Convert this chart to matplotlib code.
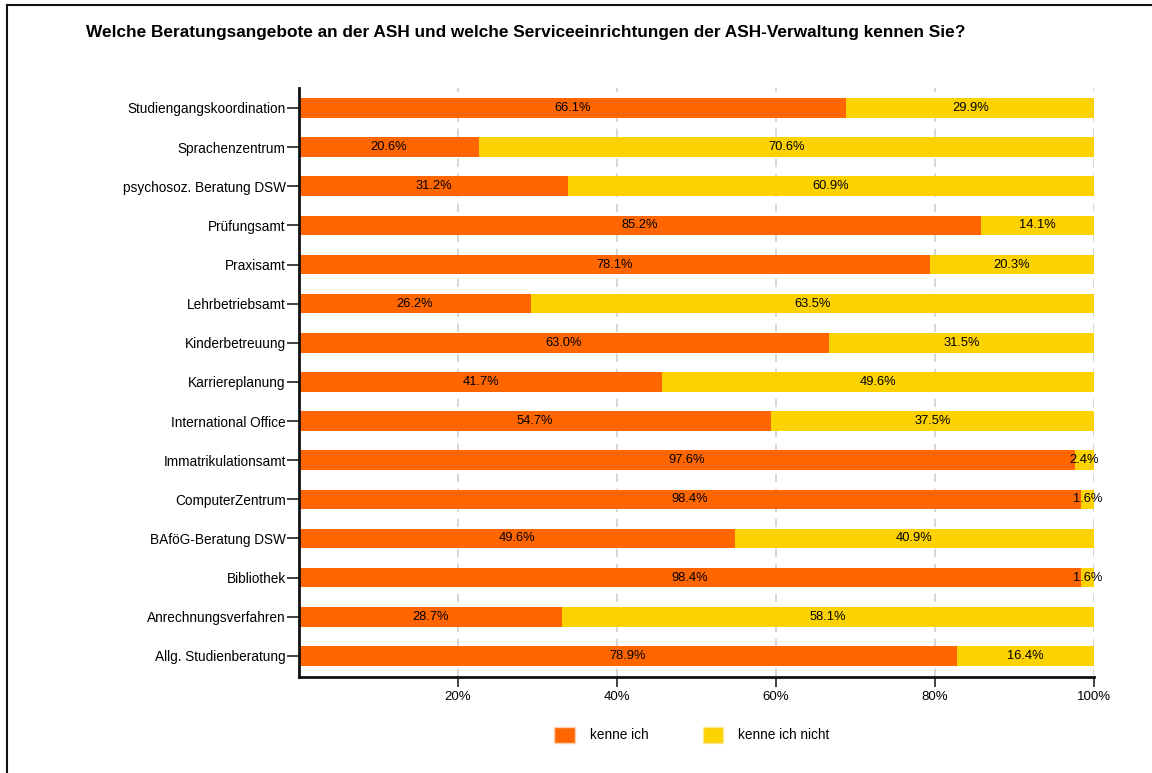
import numpy as np
import matplotlib.pyplot as plt
from matplotlib.patches import Patch
from matplotlib.lines import Line2D

plt.rcParams['font.family'] = ['Liberation Sans', 'DejaVu Sans']

# Daten (von oben nach unten)
kategorien = ['Studiengangskoordination', 'Sprachenzentrum', 'psychosoz. Beratung DSW',
              'Prüfungsamt', 'Praxisamt', 'Lehrbetriebsamt', 'Kinderbetreuung',
              'Karriereplanung', 'International Office', 'Immatrikulationsamt',
              'ComputerZentrum', 'BAföG-Beratung DSW', 'Bibliothek',
              'Anrechnungsverfahren', 'Allg. Studienberatung']
kenne_ich = [66.1, 20.6, 31.2, 85.2, 78.1, 26.2, 63.0, 41.7, 54.7, 97.6, 98.4, 49.6, 98.4, 28.7, 78.9]
kenne_ich_nicht = [29.9, 70.6, 60.9, 14.1, 20.3, 63.5, 31.5, 49.6, 37.5, 2.4, 1.6, 40.9, 1.6, 58.1, 16.4]
serien = ['kenne ich', 'kenne ich nicht']
farben = ['#ff6600', '#fcd200']
titel = 'Welche Beratungsangebote an der ASH und welche Serviceeinrichtungen der ASH-Verwaltung kennen Sie?'

a = np.array(kenne_ich)
b = np.array(kenne_ich_nicht)
summe = a + b
a_norm = a / summe * 100
b_norm = b / summe * 100
y = np.arange(len(kategorien))

fig = plt.figure(figsize=(11.52, 7.73), dpi=100)
ax = fig.add_axes([299 / 1152, 1 - 677 / 773, 795 / 1152, 589 / 773])

ax.barh(y, a_norm, height=0.5, color=farben[0], zorder=2)
ax.barh(y, b_norm, left=a_norm, height=0.5, color=farben[1], zorder=2)

for i in range(len(kategorien)):
    ax.text(a_norm[i] / 2, y[i], f'{a[i]:.1f}%', ha='center', va='center', fontsize=9.3, zorder=3)
    ax.text(a_norm[i] + b_norm[i] / 2, y[i], f'{b[i]:.1f}%', ha='center', va='center', fontsize=9.3, zorder=3)

ax.set_xlim(0, 100)
ax.set_ylim(len(kategorien) - 0.46, -0.51)
ax.set_yticks(y)
ax.set_yticklabels(kategorien, fontsize=9.8)
ax.set_xticks([20, 40, 60, 80, 100])
ax.set_xticklabels(['20%', '40%', '60%', '80%', '100%'], fontsize=9.5)
ax.tick_params(axis='x', length=7, width=1.2, color='#222222', pad=3)
ax.tick_params(axis='y', length=9, width=1.2, color='#222222', pad=0.5)
ax.grid(axis='x', color='#d0d0d0', linestyle=(0, (5, 4)), linewidth=1.2, zorder=0)
for s in ['top', 'right']:
    ax.spines[s].set_visible(False)
for s in ['left', 'bottom']:
    ax.spines[s].set_linewidth(2)
    ax.spines[s].set_color('#111111')

fig.text(86 / 1152, 1 - 32 / 773, titel, fontsize=12.4, fontweight='bold', va='center', ha='left')

handles = [Patch(facecolor=farben[0], edgecolor='#ffd0b0'), Patch(facecolor=farben[1], edgecolor='#ffe890')]
fig.legend(handles, serien, loc='center', bbox_to_anchor=(692 / 1152, 1 - 735 / 773), ncol=2,
           frameon=False, fontsize=9.8, handlelength=1.5, handleheight=1.5,
           handletextpad=1.1, columnspacing=4.0)

# Rahmen
fig.add_artist(Line2D([7 / 1152, 1], [1 - 5 / 773, 1 - 5 / 773], color='#111111', linewidth=1.5))
fig.add_artist(Line2D([7 / 1152, 7 / 1152], [0, 1 - 5 / 773], color='#111111', linewidth=1.5))

plt.savefig('out.png', dpi=100)
